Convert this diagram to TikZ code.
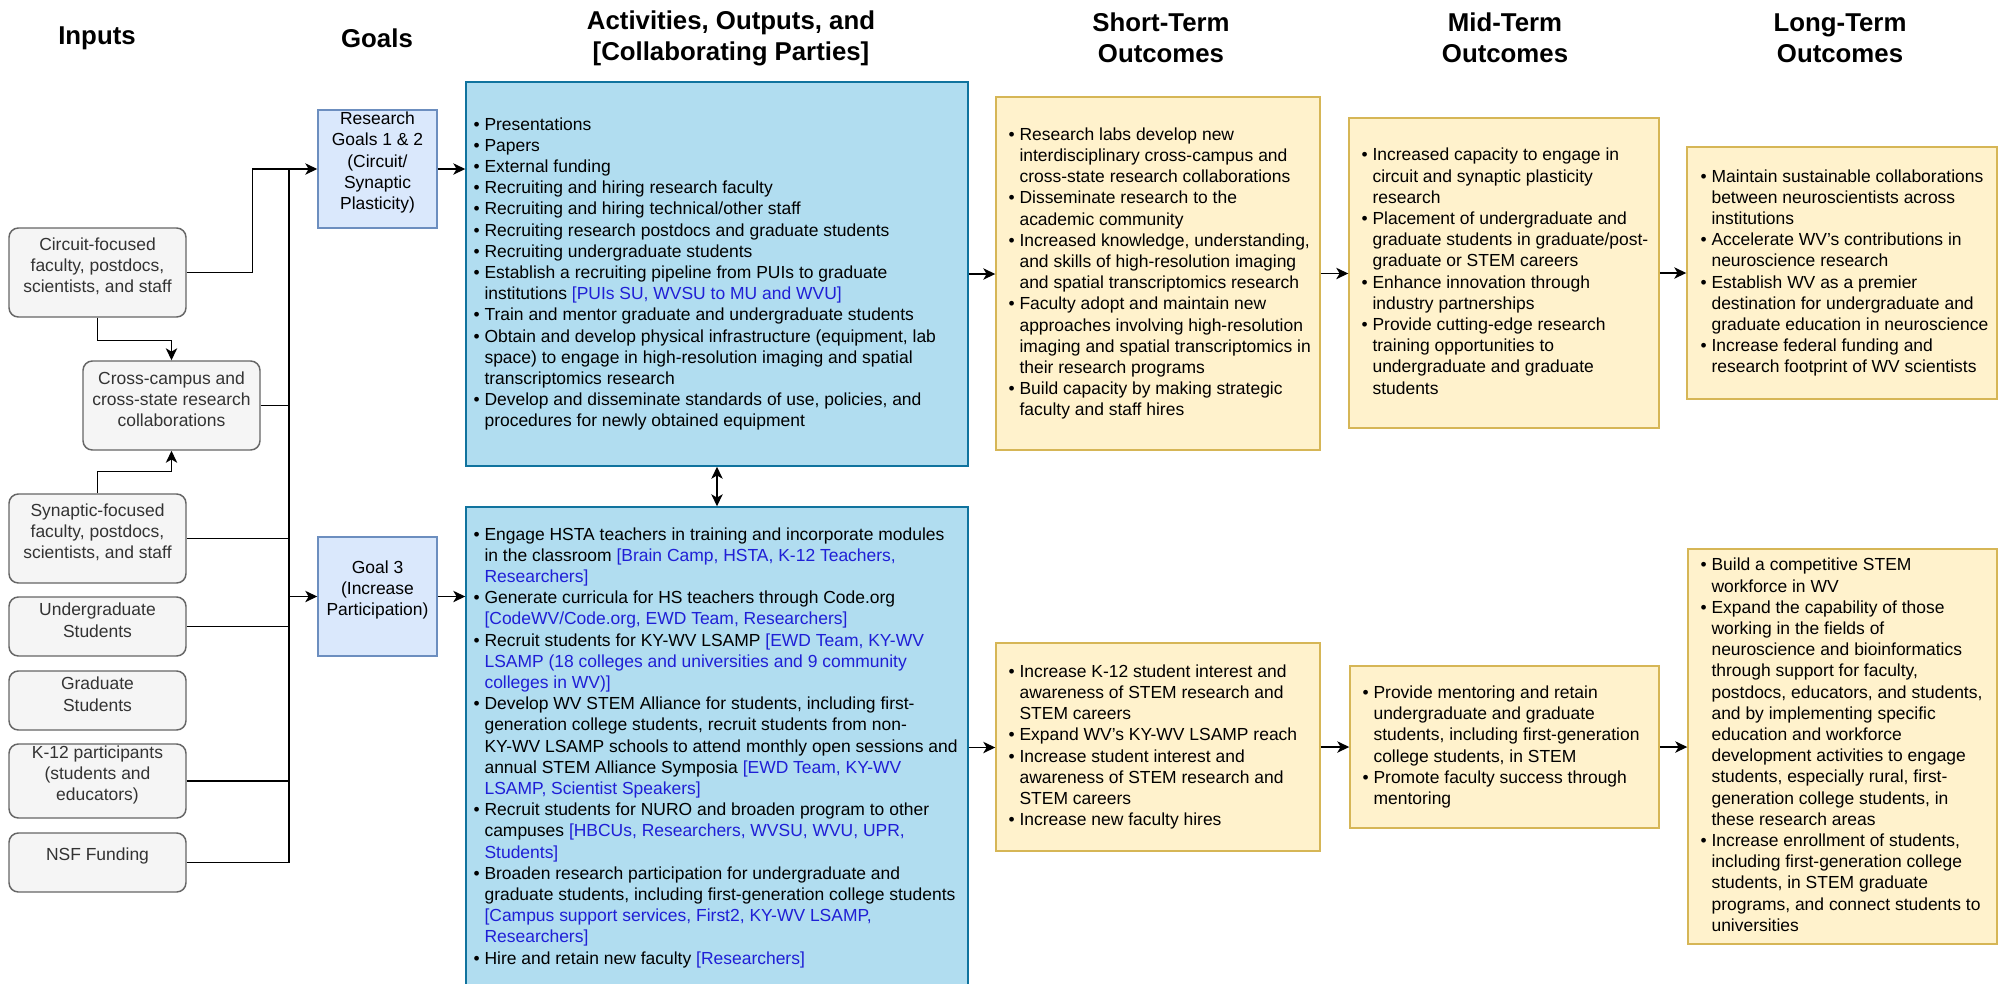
\documentclass[tikz,border=0pt]{standalone}
\usepackage{fontspec}
\setmainfont{Liberation Sans}
\usetikzlibrary{arrows.meta,fit,calc}

\definecolor{inFill}{HTML}{F5F5F5}
\definecolor{inDraw}{HTML}{666666}
\definecolor{inText}{HTML}{333333}
\definecolor{goalFill}{HTML}{DAE8FC}
\definecolor{goalDraw}{HTML}{6C8EBF}
\definecolor{actFill}{HTML}{B1DDF0}
\definecolor{actDraw}{HTML}{10739E}
\definecolor{outFill}{HTML}{FFF2CC}
\definecolor{outDraw}{HTML}{D6B656}
\definecolor{partyblue}{HTML}{1F1FD6}

\newcommand\boxfont{\fontsize{13.1pt}{15.9pt}\selectfont}
\newcommand\headfont{\fontsize{19.35pt}{23.25pt}\selectfont\bfseries}
% bullet item and continuation line, both with a fixed line strut
\newcommand\itm{\rule[-0.21em]{0pt}{0.75em}\makebox[0.63em][l]{\textbullet}}
\newcommand\cnt{\rule[-0.21em]{0pt}{0.75em}\hspace*{0.63em}}
\newcommand\blu[1]{\textcolor{partyblue}{#1}}

\begin{document}
\begin{tikzpicture}[x=0.75pt,y=-0.75pt,
  basebox/.style={inner sep=0pt, line width=1.1pt},
  inbox/.style={basebox, rounded corners=7pt, fill=inFill, draw=inDraw,
    text=inText, align=center, font=\boxfont},
  goalbox/.style={basebox, fill=goalFill, draw=goalDraw, align=center, font=\boxfont},
  actbox/.style={basebox, fill=actFill, draw=actDraw},
  outbox/.style={basebox, fill=outFill, draw=outDraw},
  bullets/.style={anchor=west, inner sep=0pt, align=left, font=\boxfont},
  headtxt/.style={font=\headfont, align=center},
  conn/.style={line width=1.1pt, draw=black},
  arr/.style={conn, -{Stealth[length=9pt,width=8.5pt,inset=2.5pt]}},
  darr/.style={conn, {Stealth[length=9pt,width=8.5pt,inset=2.5pt]}-{Stealth[length=9pt,width=8.5pt,inset=2.5pt]}},
]
\useasboundingbox (0,0) rectangle (2010,983);
\fill[white] (0,0) rectangle (2010,983);

% column headings
\node[headtxt] (hin) at (97,38) {Inputs};
\node[headtxt] (hgo) at (377,38) {Goals};
\node[headtxt] (hact) at (731,38) {Activities, Outputs, and\\{[Collaborating Parties]}};
\node[headtxt] (hst) at (1161,38) {Short-Term\\Outcomes};
\node[headtxt] (hmt) at (1505,38) {Mid-Term\\Outcomes};
\node[headtxt] (hlt) at (1840,38) {Long-Term\\Outcomes};

% inputs
\node[inbox, fit={(9,228)(186,317)}] (circ) {Circuit-focused\\faculty, postdocs,\\scientists, and staff};
\node[inbox, fit={(83,361)(260,450)}] (cross) {Cross-campus and\\cross-state research\\collaborations};
\node[inbox, fit={(9,494)(186,583)}] (syn) {Synaptic-focused\\faculty, postdocs,\\scientists, and staff};
\node[inbox, fit={(9,597)(186,656)}] (ug) {Undergraduate\\Students};
\node[inbox, fit={(9,671)(186,730)}] (gr) {Graduate\\Students};
\node[inbox, fit={(9,744)(186,818)}] (k12) {K-12 participants\\(students and\\educators)};
\node[inbox, fit={(9,833)(186,892)}] (nsf) {NSF Funding};

% goals
\node[goalbox, fit={(318,110)(437,228)}] (rg12) {Research\\Goals 1 \& 2\\(Circuit/\\Synaptic\\Plasticity)};
\node[goalbox, fit={(318,537)(437,656)}] (g3) {Goal 3\\(Increase\\Participation)};

% activities
\node[actbox, fit={(466,82)(968,466)}] (act1) {};
\node[actbox, fit={(466,507)(968,988)}] (act2) {};

\node[bullets, xshift=6pt] (act1t) at (act1.west) {%
\itm Presentations\\
\itm Papers\\
\itm External funding\\
\itm Recruiting and hiring research faculty\\
\itm Recruiting and hiring technical/other staff\\
\itm Recruiting research postdocs and graduate students\\
\itm Recruiting undergraduate students\\
\itm Establish a recruiting pipeline from PUIs to graduate\\
\cnt institutions \blu{[PUIs SU, WVSU to MU and WVU]}\\
\itm Train and mentor graduate and undergraduate students\\
\itm Obtain and develop physical infrastructure (equipment, lab\\
\cnt space) to engage in high-resolution imaging and spatial\\
\cnt transcriptomics research\\
\itm Develop and disseminate standards of use, policies, and\\
\cnt procedures for newly obtained equipment};

\node[bullets, xshift=6pt] (act2t) at (act2.west) {%
\itm Engage HSTA teachers in training and incorporate modules\\
\cnt in the classroom \blu{[Brain Camp, HSTA, K-12 Teachers,}\\
\cnt \blu{Researchers]}\\
\itm Generate curricula for HS teachers through Code.org\\
\cnt \blu{[CodeWV/Code.org, EWD Team, Researchers]}\\
\itm Recruit students for KY-WV LSAMP \blu{[EWD Team, KY-WV}\\
\cnt \blu{LSAMP (18 colleges and universities and 9 community}\\
\cnt \blu{colleges in WV)]}\\
\itm Develop WV STEM Alliance for students, including first-\\
\cnt generation college students, recruit students from non-\\
\cnt KY-WV LSAMP schools to attend monthly open sessions and\\
\cnt annual STEM Alliance Symposia \blu{[EWD Team, KY-WV}\\
\cnt \blu{LSAMP, Scientist Speakers]}\\
\itm Recruit students for NURO and broaden program to other\\
\cnt campuses \blu{[HBCUs, Researchers, WVSU, WVU, UPR,}\\
\cnt \blu{Students]}\\
\itm Broaden research participation for undergraduate and\\
\cnt graduate students, including first-generation college students\\
\cnt \blu{[Campus support services, First2, KY-WV LSAMP,}\\
\cnt \blu{Researchers]}\\
\itm Hire and retain new faculty \blu{[Researchers]}};

% outcomes, research strand
\node[outbox, fit={(996,97)(1320,450)}] (st1) {};
\node[outbox, fit={(1349,118)(1659,428)}] (mt1) {};
\node[outbox, fit={(1687,147)(1997,399)}] (lt1) {};

\node[bullets, xshift=9.75pt] (st1t) at (st1.west) {%
\itm Research labs develop new\\
\cnt interdisciplinary cross-campus and\\
\cnt cross-state research collaborations\\
\itm Disseminate research to the\\
\cnt academic community\\
\itm Increased knowledge, understanding,\\
\cnt and skills of high-resolution imaging\\
\cnt and spatial transcriptomics research\\
\itm Faculty adopt and maintain new\\
\cnt approaches involving high-resolution\\
\cnt imaging and spatial transcriptomics in\\
\cnt their research programs\\
\itm Build capacity by making strategic\\
\cnt faculty and staff hires};

\node[bullets, xshift=9.75pt] (mt1t) at (mt1.west) {%
\itm Increased capacity to engage in\\
\cnt circuit and synaptic plasticity\\
\cnt research\\
\itm Placement of undergraduate and\\
\cnt graduate students in graduate/post-\\
\cnt graduate or STEM careers\\
\itm Enhance innovation through\\
\cnt industry partnerships\\
\itm Provide cutting-edge research\\
\cnt training opportunities to\\
\cnt undergraduate and graduate\\
\cnt students};

\node[bullets, xshift=10.5pt] (lt1t) at (lt1.west) {%
\itm Maintain sustainable collaborations\\
\cnt between neuroscientists across\\
\cnt institutions\\
\itm Accelerate WV's contributions in\\
\cnt neuroscience research\\
\itm Establish WV as a premier\\
\cnt destination for undergraduate and\\
\cnt graduate education in neuroscience\\
\itm Increase federal funding and\\
\cnt research footprint of WV scientists};

% outcomes, participation strand
\node[outbox, fit={(996,643)(1320,851)}] (st2) {};
\node[outbox, fit={(1350,666)(1659,828)}] (mt2) {};
\node[outbox, fit={(1688,549)(1997,944)}] (lt2) {};

\node[bullets, xshift=9.75pt] (st2t) at (st2.west) {%
\itm Increase K-12 student interest and\\
\cnt awareness of STEM research and\\
\cnt STEM careers\\
\itm Expand WV's KY-WV LSAMP reach\\
\itm Increase student interest and\\
\cnt awareness of STEM research and\\
\cnt STEM careers\\
\itm Increase new faculty hires};

\node[bullets, xshift=9.75pt] (mt2t) at (mt2.west) {%
\itm Provide mentoring and retain\\
\cnt undergraduate and graduate\\
\cnt students, including first-generation\\
\cnt college students, in STEM\\
\itm Promote faculty success through\\
\cnt mentoring};

\node[bullets, xshift=9.75pt] (lt2t) at (lt2.west) {%
\itm Build a competitive STEM\\
\cnt workforce in WV\\
\itm Expand the capability of those\\
\cnt working in the fields of\\
\cnt neuroscience and bioinformatics\\
\cnt through support for faculty,\\
\cnt postdocs, educators, and students,\\
\cnt and by implementing specific\\
\cnt education and workforce\\
\cnt development activities to engage\\
\cnt students, especially rural, first-\\
\cnt generation college students, in\\
\cnt these research areas\\
\itm Increase enrollment of students,\\
\cnt including first-generation college\\
\cnt students, in STEM graduate\\
\cnt programs, and connect students to\\
\cnt universities};

% input wiring
\coordinate (busx) at (289,0);
\draw[arr] (circ.east) -- ++(66,0) |- (rg12.west);
\draw[conn] (rg12.west -| busx) -- (nsf.east -| busx);
\draw[conn] (cross.east) -- (cross.east -| busx);
\draw[conn] (syn.east) -- (syn.east -| busx);
\draw[conn] (ug.east) -- (ug.east -| busx);
\draw[conn] (k12.east) -- (k12.east -| busx);
\draw[conn] (nsf.east) -- (nsf.east -| busx);
\draw[arr] (g3.west -| busx) -- (g3.west);
\draw[arr] (circ.south) -- ++(0,23) -| (cross.north);
\draw[arr] (syn.north) -- ++(0,-22) -| (cross.south);

% goals to activities
\draw[arr] (rg12.east) -- (rg12.east -| act1.west);
\draw[arr] (g3.east) -- (g3.east -| act2.west);
\draw[darr] (act1.south) -- (act2.north);

% activities to outcomes
\draw[arr] (act1.east) -- (act1.east -| st1.west);
\draw[arr] (st1.east) -- (st1.east -| mt1.west);
\draw[arr] (mt1.east) -- (mt1.east -| lt1.west);
\draw[arr] (act2.east) -- (act2.east -| st2.west);
\draw[arr] (st2.east) -- (st2.east -| mt2.west);
\draw[arr] (mt2.east) -- (mt2.east -| lt2.west);
\end{tikzpicture}
\end{document}
